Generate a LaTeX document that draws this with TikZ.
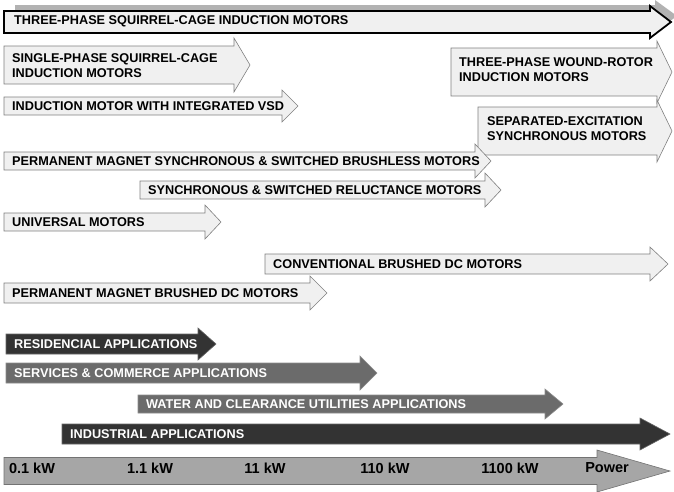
\documentclass[tikz,border=0pt]{standalone}
\usepackage{fontspec}
\setmainfont{Liberation Sans}
\usetikzlibrary{shapes}
\newcommand{\rangearrow}[7][]{
  \filldraw[#1] (#2,#5-#6) -- (#3,#5-#6) -- (#3,#5-#7) -- (#4,#5)
    -- (#3,#5+#7) -- (#3,#5+#6) -- (#2,#5+#6) -- cycle;
}
\tikzset{
  motor/.style={fill=black!6, draw=black!50, line width=0.6pt},
  mainmotor/.style={fill=black!6, draw=black, line width=1.8pt, line join=miter},
  shade/.style={fill=black!30, draw=none},
  darkappl/.style={fill=black!80, draw=black!60, line width=0.6pt},
  greyappl/.style={fill=black!58, draw=black!45, line width=0.6pt},
  powerax/.style={fill=black!35, draw=black!55, line width=0.6pt},
  lbl/.style={anchor=west, inner sep=0pt, align=left,
    font=\bfseries\fontsize{12.7}{15}\selectfont},
  wlbl/.style={lbl, text=white},
  klbl/.style={anchor=center, inner sep=0pt,
    font=\bfseries\fontsize{14.5}{16}\selectfont},
}

\begin{document}
\begin{tikzpicture}[x=1pt,y=-1pt]
\useasboundingbox (0,0) rectangle (674,491);

% motor types
\begin{scope}[shift={(5,-6)}]
\rangearrow[shade]{10}{650}{672}{22}{11}{16}
\end{scope}
\rangearrow[mainmotor]{4}{650}{671}{22}{11}{16}
\node[lbl] (tpsc) at (14,21) {THREE-PHASE SQUIRREL-CAGE INDUCTION MOTORS};

\rangearrow[motor]{4}{234}{250}{65}{19}{27}
\node[lbl] (spsc) at (12,65.5) {SINGLE-PHASE SQUIRREL-CAGE\\INDUCTION MOTORS};

\rangearrow[motor]{451}{657}{672}{72}{24}{31}
\node[lbl] (tpwr) at (459,69.5) {THREE-PHASE WOUND-ROTOR\\INDUCTION MOTORS};

\rangearrow[motor]{4}{282}{298}{106}{9}{16}
\node[lbl] (vsd) at (12,106) {INDUCTION MOTOR WITH INTEGRATED VSD};

\rangearrow[motor]{478}{657}{672}{131}{24}{31}
\node[lbl] (sesm) at (487,129) {SEPARATED-EXCITATION\\SYNCHRONOUS MOTORS};

\rangearrow[motor]{4}{475}{491}{161}{9}{17}
\node[lbl] (pmsm) at (12,161) {PERMANENT MAGNET SYNCHRONOUS \& SWITCHED BRUSHLESS MOTORS};

\rangearrow[motor]{140}{485}{501}{190}{9}{17}
\node[lbl] (srm) at (148,190) {SYNCHRONOUS \& SWITCHED RELUCTANCE MOTORS};

\rangearrow[motor]{4}{205}{221}{222}{9}{17}
\node[lbl] (univ) at (12,222) {UNIVERSAL MOTORS};

\rangearrow[motor]{265}{650}{668}{264}{10}{17}
\node[lbl] (cbdc) at (273,264) {CONVENTIONAL BRUSHED DC MOTORS};

\rangearrow[motor]{4}{310}{327}{293}{10}{17}
\node[lbl] (pmdc) at (12,293) {PERMANENT MAGNET BRUSHED DC MOTORS};

% applications
\rangearrow[darkappl]{6}{198}{216}{344}{10}{16}
\node[wlbl] (res) at (14,344) {RESIDENCIAL APPLICATIONS};

\rangearrow[greyappl]{6}{360}{377}{373}{10}{17}
\node[wlbl] (serv) at (14,373) {SERVICES \& COMMERCE APPLICATIONS};

\rangearrow[greyappl]{138}{545}{563}{404}{9}{15}
\node[wlbl] (water) at (146,404) {WATER AND CLEARANCE UTILITIES APPLICATIONS};

\rangearrow[darkappl]{62}{640}{670}{434}{10}{16}
\node[wlbl] (ind) at (70,434) {INDUSTRIAL APPLICATIONS};

% power axis
\rangearrow[powerax]{4}{597}{670}{471}{13.5}{21}
\node[klbl] (p1) at (32,468) {0.1 kW};
\node[klbl] (p2) at (150,468) {1.1 kW};
\node[klbl] (p3) at (265,468) {11 kW};
\node[klbl] (p4) at (385,468) {110 kW};
\node[klbl] (p5) at (510,468) {1100 kW};
\node[klbl] (p6) at (607,468) {Power};

\end{tikzpicture}
\end{document}
